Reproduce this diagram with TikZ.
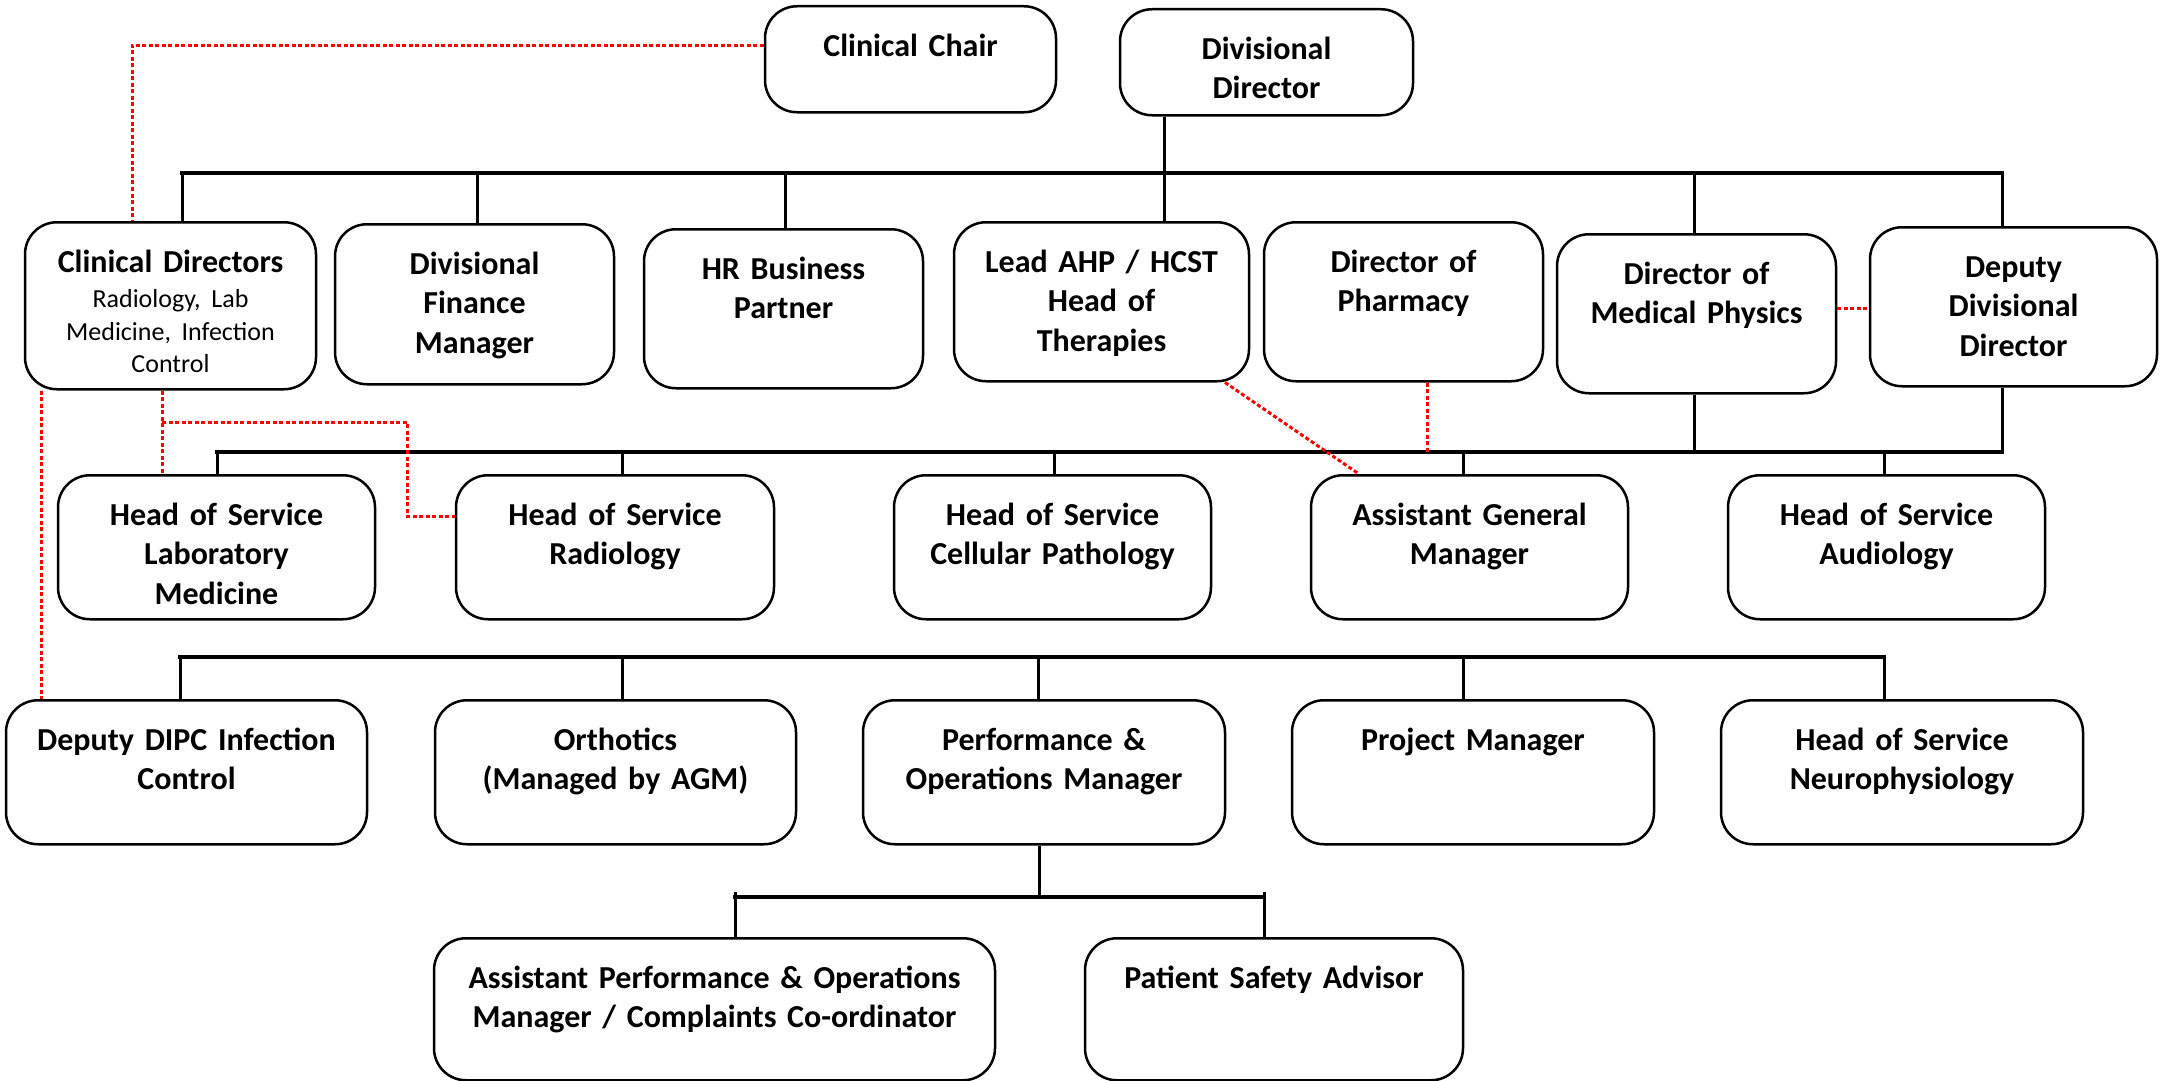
\documentclass[tikz,border=0pt]{standalone}
\usepackage{fontspec}
\setmainfont{Carlito}

\begin{document}
\begin{tikzpicture}[x=1pt,y=-1pt,
  post/.style 2 args={draw, line width=2.5pt, rounded corners=32pt, anchor=north, inner sep=0pt,
    align=center, text width=#1, text height=50pt, text depth=#2,
    font=\bfseries\fontsize{32}{39.5}\selectfont},
  stem/.style={line width=3pt},
  bus/.style={line width=4.5pt, line cap=rect},
  liaison/.style={red, line width=3pt, dash pattern=on 4pt off 2.5pt}]
  \useasboundingbox (0,0) rectangle (2161,1081);

  % top
  \node[post={291pt}{56pt}] (chair) at (910.5,5) {Clinical Chair};
  \node[post={293pt}{56pt}] (divdir) at (1266.5,8) {Divisional\\ Director};

  % first row
  \node[post={291pt}{117pt}] (clindir) at (170.5,221) {Clinical Directors\\[3pt]
    {\mdseries\fontsize{26}{32.5}\selectfont Radiology, Lab\\ Medicine, Infection\\ Control\par}};
  \node[post={279pt}{110pt}] (dfm) at (474.5,223) {Divisional\\ Finance\\ Manager};
  \node[post={279pt}{109pt}] (hrbp) at (783.5,228) {HR Business\\ Partner};
  \node[post={295pt}{109pt}] (leadahp) at (1101.5,221) {Lead AHP / HCST\\ Head of\\ Therapies};
  \node[post={279pt}{109pt}] (pharmacy) at (1403.5,221) {Director of\\ Pharmacy};
  \node[post={279pt}{109pt}] (medphys) at (1696.5,233) {Director of\\ Medical Physics};
  \node[post={287pt}{109pt}] (ddd) at (2013.5,226) {Deputy\\ Divisional\\ Director};

  % second row
  \node[post={317pt}{94pt}] (labmed) at (216.5,474) {Head of Service\\ Laboratory\\ Medicine};
  \node[post={318pt}{94pt}] (radiology) at (615,474) {Head of Service\\ Radiology};
  \node[post={317pt}{94pt}] (cellpath) at (1052.5,474) {Head of Service\\ Cellular Pathology};
  \node[post={317pt}{94pt}] (agm) at (1469.5,474) {Assistant General\\ Manager};
  \node[post={317pt}{94pt}] (audiology) at (1886.5,474) {Head of Service\\ Audiology};

  % third row
  \node[post={361pt}{94pt}] (dipc) at (186.5,699) {Deputy DIPC Infection\\ Control};
  \node[post={361pt}{94pt}] (orthotics) at (615.5,699) {Orthotics\\ (Managed by AGM)};
  \node[post={362pt}{94pt}] (perfops) at (1044,699) {Performance \&\\ Operations Manager};
  \node[post={362pt}{94pt}] (project) at (1473,699) {Project Manager};
  \node[post={362pt}{94pt}] (neuro) at (1902,699) {Head of Service\\ Neurophysiology};

  % fourth row
  \node[post={561pt}{92pt}] (asstperf) at (714.5,937) {Assistant Performance \& Operations\\ Manager / Complaints Co-ordinator};
  \node[post={378pt}{92pt}] (safety) at (1274,937) {Patient Safety Advisor};

  \coordinate (bus1w) at (182,173);  \coordinate (bus1e) at (2002,173);
  \coordinate (bus2w) at (217,452);  \coordinate (bus2e) at (2002,452);
  \coordinate (bus3w) at (180,657);  \coordinate (bus3e) at (1884,657);
  \coordinate (bus4w) at (735,897);  \coordinate (bus4e) at (1264,897);

  % line management
  \draw[bus] (bus1w) -- (bus1e);
  \draw[stem] (bus1w) -- (clindir.north -| bus1w);
  \draw[stem] (bus1w -| 477,0) -- (dfm.north -| 477,0);
  \draw[stem] (bus1w -| 785,0) -- (hrbp.north -| 785,0);
  \draw[stem] (divdir.south -| 1164,0) -- (leadahp.north -| 1164,0);
  \draw[stem] (bus1w -| 1694,0) -- (medphys.north -| 1694,0);
  \draw[stem] (bus1e) -- (ddd.north -| bus1e);

  \draw[stem] (medphys.south -| 1694,0) -- (bus2w -| 1694,0);
  \draw[stem] (ddd.south -| bus2e) -- (bus2e);
  \draw[bus] (bus2w) -- (bus2e);
  \draw[stem] (bus2w) -- (labmed.north -| bus2w);
  \draw[stem] (bus2w -| 622,0) -- (radiology.north -| 622,0);
  \draw[stem] (bus2w -| 1054,0) -- (cellpath.north -| 1054,0);
  \draw[stem] (bus2w -| 1463,0) -- (agm.north -| 1463,0);
  \draw[stem] (bus2w -| 1884,0) -- (audiology.north -| 1884,0);

  \draw[bus] (bus3w) -- (bus3e);
  \draw[stem] (bus3w) -- (dipc.north -| bus3w);
  \draw[stem] (bus3w -| 622,0) -- (orthotics.north -| 622,0);
  \draw[stem] (bus3w -| 1038,0) -- (perfops.north -| 1038,0);
  \draw[stem] (bus3w -| 1463,0) -- (project.north -| 1463,0);
  \draw[stem] (bus3e) -- (neuro.north -| bus3e);

  \draw[stem] (perfops.south -| 1039,0) -- (bus4w -| 1039,0);
  \draw[bus] (bus4w) -- (bus4e);
  \draw[stem] ([yshift=5pt]bus4w) -- (asstperf.north -| bus4w);
  \draw[stem] ([yshift=5pt]bus4e) -- (safety.north -| bus4e);

  % professional links
  \draw[liaison] ([yshift=14pt]chair.west) -| (clindir.north -| 132,0);
  \draw[liaison] (clindir.south -| 41,0) -- (dipc.north -| 41,0);
  \draw[liaison] (clindir.south -| 162,0) -- (labmed.north -| 162,0);
  \coordinate (fork) at (162,422);
  \draw[liaison] (fork) -| (407,516) -- (radiology.west |- 407,516);
  \draw[liaison] (leadahp.south -| 1225,0) -- (agm.north -| 1359,0);
  \draw[liaison] (pharmacy.south -| 1427,0) -- (bus2w -| 1427,0);
  \draw[liaison] ([yshift=5pt]medphys.east) -- ([yshift=5pt]medphys.east -| ddd.west);
\end{tikzpicture}
\end{document}
